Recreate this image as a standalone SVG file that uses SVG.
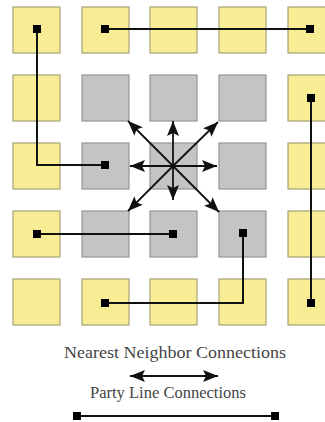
<svg xmlns="http://www.w3.org/2000/svg" width="325" height="422" viewBox="0 0 325 422">
<style>
.y{fill:#f8ec94;stroke:#a8a27a;stroke-width:1.2}
.g{fill:#c4c4c4;stroke:#959595;stroke-width:1.2}
.pl{fill:none;stroke:#111;stroke-width:2}
.nn{fill:none;stroke:#111;stroke-width:1.8}
.d{fill:#000}
.t{font-family:"Liberation Serif",serif;font-size:16px;fill:#444;text-anchor:middle}
</style>
<defs>
<marker id="ah" markerUnits="userSpaceOnUse" markerWidth="16" markerHeight="12" refX="15" refY="6" orient="auto-start-reverse">
<path d="M0,0 L15,6 L0,12 L3,6 Z" fill="#111"/>
</marker>
</defs>
<g id="nodes">
<g id="n00"><rect class="y" x="13" y="7" width="47" height="46"/></g>
<g id="n01"><rect class="y" x="82" y="7" width="47" height="46"/></g>
<g id="n02"><rect class="y" x="150" y="7" width="47" height="46"/></g>
<g id="n03"><rect class="y" x="219" y="7" width="47" height="46"/></g>
<g id="n04"><rect class="y" x="288" y="7" width="47" height="46"/></g>
<g id="n10"><rect class="y" x="13" y="75" width="47" height="46"/></g>
<g id="n11"><rect class="g" x="82" y="75" width="47" height="46"/></g>
<g id="n12"><rect class="g" x="150" y="75" width="47" height="46"/></g>
<g id="n13"><rect class="g" x="219" y="75" width="47" height="46"/></g>
<g id="n14"><rect class="y" x="288" y="75" width="47" height="46"/></g>
<g id="n20"><rect class="y" x="13" y="143" width="47" height="46"/></g>
<g id="n21"><rect class="g" x="82" y="143" width="47" height="46"/></g>
<g id="n22"><rect class="g" x="150" y="143" width="47" height="46"/></g>
<g id="n23"><rect class="g" x="219" y="143" width="47" height="46"/></g>
<g id="n24"><rect class="y" x="288" y="143" width="47" height="46"/></g>
<g id="n30"><rect class="y" x="13" y="211" width="47" height="46"/></g>
<g id="n31"><rect class="g" x="82" y="211" width="47" height="46"/></g>
<g id="n32"><rect class="g" x="150" y="211" width="47" height="46"/></g>
<g id="n33"><rect class="g" x="219" y="211" width="47" height="46"/></g>
<g id="n34"><rect class="y" x="288" y="211" width="47" height="46"/></g>
<g id="n40"><rect class="y" x="13" y="279" width="47" height="46"/></g>
<g id="n41"><rect class="y" x="82" y="279" width="47" height="46"/></g>
<g id="n42"><rect class="y" x="150" y="279" width="47" height="46"/></g>
<g id="n43"><rect class="y" x="219" y="279" width="47" height="46"/></g>
<g id="n44"><rect class="y" x="288" y="279" width="47" height="46"/></g>
</g>
<g id="connectors">
<path class="pl" d="M37,29 V165 H105"/>
<path class="pl" d="M105,29 H310"/>
<path class="pl" d="M311,98 V303"/>
<path class="pl" d="M37,234 H173"/>
<path class="pl" d="M105,303 H243 V233"/>
<g class="d">
<rect x="33" y="25" width="8" height="8"/>
<rect x="101" y="161" width="8" height="8"/>
<rect x="101" y="25" width="8" height="8"/>
<rect x="306" y="25" width="8" height="8"/>
<rect x="307" y="94" width="8" height="8"/>
<rect x="307" y="299" width="8" height="8"/>
<rect x="33" y="230" width="8" height="8"/>
<rect x="169" y="230" width="8" height="8"/>
<rect x="101" y="299" width="8" height="8"/>
<rect x="239" y="229" width="8" height="8"/>
</g>
<g class="nn">
<line x1="173" y1="166" x2="173" y2="121" marker-end="url(#ah)"/>
<line x1="173" y1="166" x2="173" y2="200" marker-end="url(#ah)"/>
<line x1="173" y1="166" x2="130" y2="166" marker-end="url(#ah)"/>
<line x1="173" y1="166" x2="217" y2="166" marker-end="url(#ah)"/>
<line x1="173" y1="166" x2="128" y2="121" marker-end="url(#ah)"/>
<line x1="173" y1="166" x2="218" y2="122" marker-end="url(#ah)"/>
<line x1="173" y1="166" x2="128" y2="211" marker-end="url(#ah)"/>
<line x1="173" y1="166" x2="219" y2="212" marker-end="url(#ah)"/>
</g>
</g>
<g id="legend">
<text class="t" x="175" y="358" textLength="222" lengthAdjust="spacingAndGlyphs">Nearest Neighbor Connections</text>
<line class="nn" x1="130" y1="376" x2="218" y2="376" marker-start="url(#ah)" marker-end="url(#ah)"/>
<text class="t" x="168" y="398" textLength="156" lengthAdjust="spacingAndGlyphs">Party Line Connections</text>
<line class="pl" x1="77" y1="416" x2="275" y2="416"/>
<rect class="d" x="73" y="412" width="8" height="8"/>
<rect class="d" x="271" y="412" width="8" height="8"/>
</g>
</svg>
